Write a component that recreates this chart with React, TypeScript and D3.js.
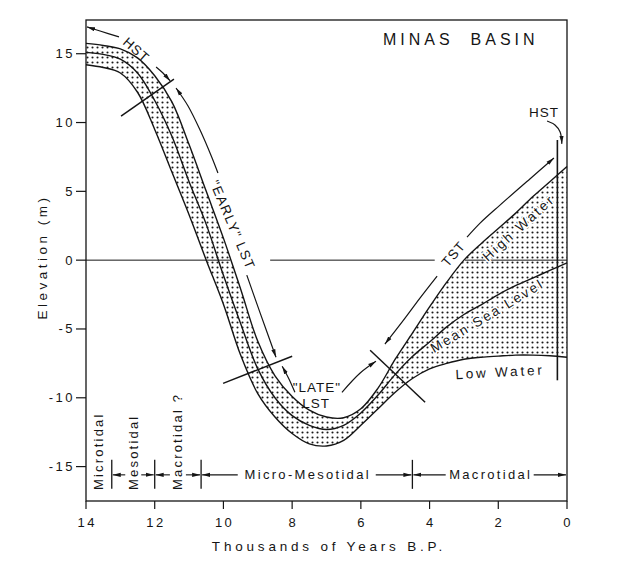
import * as d3 from 'd3'
import React from 'react'

// ages in thousands of years B.P. and the three tidal levels (m)
const years = [14, 13.5, 13, 12.5, 12, 11.5, 11, 10.5, 10, 9.5, 9, 8.5, 8, 7.5, 7, 6.5, 6, 5.5, 5, 4.5, 4, 3.5, 3, 2.5, 2, 1.5, 1, 0.5, 0]
const highWater = [15.75, 15.6, 15.35, 14.7, 13.4, 11.5, 8.4, 5.0, 1.6, -2.1, -5.9, -8.4, -9.9, -10.9, -11.4, -11.45, -10.8, -9.3, -7.2, -5.3, -3.4, -1.6, 0.0, 1.2, 2.3, 3.4, 4.6, 5.7, 6.8]
const meanSeaLevel = [15.1, 14.95, 14.6, 13.6, 11.6, 9.0, 5.7, 2.6, -1.1, -4.6, -7.9, -10.0, -11.3, -12.0, -12.3, -12.0, -11.1, -9.8, -8.3, -7.0, -5.95, -4.85, -3.95, -3.25, -2.5, -1.85, -1.3, -0.75, -0.2]
const lowWater = [14.2, 14.0, 13.6, 12.2, 9.5, 6.4, 3.3, 0.0, -3.2, -6.9, -9.7, -11.4, -12.6, -13.35, -13.5, -13.1, -12.0, -10.8, -9.6, -8.6, -7.9, -7.5, -7.2, -7.05, -6.97, -6.9, -6.9, -6.95, -7.05]

const xTicks = [14, 12, 10, 8, 6, 4, 2, 0]
const yTicks = [15, 10, 5, 0, -5, -10, -15]

// zero line pieces (kyr), broken where labels sit
const zeroPieces = [[14, 9.8], [8.64, 3.85], [2.97, 0]]

// systems tract arrows: [age, elevation], piece before and after each label
const hstStart = [[13.97, 16.95], [13.59, 16.65], [13.04, 16.22]]
const hstEnd = [[11.96, 14.04], [11.76, 13.6], [11.55, 13.02]]
const earlyStart = [[11.38, 12.51], [11.03, 11.2], [10.68, 9.45], [10.33, 7.42], [10.16, 6.33]]
const earlyEnd = [[9.32, -1.09], [8.93, -3.85], [8.47, -7.05]]
const lateStart = [[8.29, -7.71], [8.1, -8.6], [7.92, -9.6]]
const lateEnd = [[6.55, -9.6], [6.02, -8.2], [5.56, -7.35]]
const tstStart = [[5.3, -6.1], [4.77, -4.4], [4.28, -2.76], [3.78, -1.16]]
const tstEnd = [[2.91, 1.67], [2.53, 2.69], [1.95, 4.0], [1.08, 5.9], [0.38, 7.42]]
const hstRightArrow = [[0.58, 10.11], [0.35, 9.82], [0.2, 9.31], [0.15, 8.45]]

// boundary strokes across the band
const boundaries = [
  [[12.98, 10.47], [11.44, 13.16]],
  [[10.01, -8.95], [8.0, -6.98]],
  [[5.73, -6.55], [4.13, -10.33]],
]
const hstLimit = { age: 0.28, top: 8.73, bottom: -8.73 }

// tidal regime zones along the bottom
const zoneEdges = [14, 13.25, 12, 10.65, 4.5, 0]
const zoneNames = ['Microtidal', 'Mesotidal', 'Macrotidal ?', 'Micro-Mesotidal', 'Macrotidal']
const zoneLevel = -15.6

const FONT = "'Liberation Sans', Arial, Helvetica, sans-serif"
const INK = '#151515'
const halo = { stroke: '#fff', strokeWidth: 4, paintOrder: 'stroke', strokeLinejoin: 'round' } as any

export default function App() {
  const width = 617
  const height = 563
  const x = d3.scaleLinear().domain([14, 0]).range([86, 567])
  const y = d3.scaleLinear().domain([-17.5, 17.45]).range([501, 20])

  const curve = d3.curveCatmullRom.alpha(0.5)
  const level = d3.line<number>().x((_, i) => x(years[i])).y((d) => y(d)).curve(curve)
  const band = d3
    .area<number>()
    .x((_, i) => x(years[i]))
    .y0((_, i) => y(lowWater[i]))
    .y1((d) => y(d))
    .curve(curve)
  const path = d3.line<number[]>().x((d) => x(d[0])).y((d) => y(d[1])).curve(curve)

  const label = (txt: string, t: number, v: number, angle: number, opts: any = {}) => (
    <text
      transform={`translate(${x(t)},${y(v)}) rotate(${angle})`}
      textAnchor="middle"
      dominantBaseline="central"
      fontSize={13.5}
      fill={INK}
      {...opts}
    >
      {txt}
    </text>
  )

  const zy = y(zoneLevel)
  const zoneGap = [0, 8, 8, 69, 44]
  const vertical = [true, true, true, false, false]

  return (
    <svg width={width} height={height} style={{ position: 'absolute', left: 0, top: 0 }} fontFamily={FONT}>
      <defs>
        <pattern id="dots" width="5" height="5" patternUnits="userSpaceOnUse">
          <circle cx="2.5" cy="2.5" r="1.05" fill="#1a1a1a" />
        </pattern>
        <marker
          id="head"
          viewBox="0 0 10 6"
          refX="10"
          refY="3"
          markerWidth="8"
          markerHeight="4.8"
          markerUnits="userSpaceOnUse"
          orient="auto-start-reverse"
        >
          <path d="M0,0.4 L10,3 L0,5.6 z" fill={INK} />
        </marker>
      </defs>
      <rect width={width} height={height} fill="#fff" />

      {/* frame and axes */}
      <rect x={86} y={20} width={481} height={481} fill="none" stroke={INK} strokeWidth={1.3} />
      {yTicks.map((v) => (
        <g key={v}>
          <line x1={76} x2={86} y1={y(v)} y2={y(v)} stroke={INK} strokeWidth={1.2} />
          <text x={75} y={y(v)} textAnchor="end" dominantBaseline="central" fontSize={13} letterSpacing={2.5} fill={INK}>
            {v}
          </text>
        </g>
      ))}
      {xTicks.map((t) => (
        <g key={t}>
          <line x1={x(t)} x2={x(t)} y1={501} y2={509} stroke={INK} strokeWidth={1.2} />
          <text x={x(t) + 1.2} y={527} textAnchor="middle" fontSize={13} letterSpacing={2.5} fill={INK}>
            {t}
          </text>
        </g>
      ))}
      <text x={329} y={551} textAnchor="middle" fontSize={13.5} letterSpacing={3.8} fill={INK}>
        Thousands of Years B.P.
      </text>
      <text
        transform="translate(42,257) rotate(-90)"
        textAnchor="middle"
        dominantBaseline="central"
        fontSize={13.5}
        letterSpacing={3.5}
        fill={INK}
      >
        Elevation (m)
      </text>
      <text x={383} y={45} fontSize={16} letterSpacing={4} fill={INK}>
        {'MINAS\u00a0\u00a0BASIN'}
      </text>

      {/* tidal band */}
      <path d={band(highWater) ?? ''} fill="url(#dots)" />
      {zeroPieces.map(([a, b], i) => (
        <line key={i} x1={x(a)} x2={x(b)} y1={y(0)} y2={y(0)} stroke={INK} strokeWidth={1} />
      ))}
      {[highWater, meanSeaLevel, lowWater].map((vals, i) => (
        <path key={i} d={level(vals) ?? ''} fill="none" stroke={INK} strokeWidth={1.4} />
      ))}

      {/* systems tract boundaries */}
      {boundaries.map((b, i) => (
        <line key={i} x1={x(b[0][0])} y1={y(b[0][1])} x2={x(b[1][0])} y2={y(b[1][1])} stroke={INK} strokeWidth={1.5} />
      ))}
      <line x1={x(hstLimit.age)} x2={x(hstLimit.age)} y1={y(hstLimit.top)} y2={y(hstLimit.bottom)} stroke={INK} strokeWidth={1.6} />

      {/* tract arrows */}
      {[hstStart, earlyStart, lateStart, tstStart].map((p, i) => (
        <path key={'s' + i} d={path(p) ?? ''} fill="none" stroke={INK} strokeWidth={1.2} markerStart="url(#head)" />
      ))}
      {[hstEnd, earlyEnd, lateEnd, tstEnd, hstRightArrow].map((p, i) => (
        <path key={'e' + i} d={path(p) ?? ''} fill="none" stroke={INK} strokeWidth={1.2} markerEnd="url(#head)" />
      ))}

      {label('HST', 12.54, 15.27, 41, { letterSpacing: 1 })}
      {label('"EARLY" LST', 9.74, 2.55, 67, { letterSpacing: 1.3, ...halo })}
      {label('"LATE"', 7.28, -9.24, 0, { letterSpacing: 1 })}
      {label('LST', 7.3, -10.45, 0, { letterSpacing: 1 })}
      {label('TST', 3.3, 0.45, -49, { letterSpacing: 1, ...halo })}
      {label('HST', 0.67, 10.7, 0, { letterSpacing: 1 })}

      {label('High Water', 1.4, 2.35, -42, { letterSpacing: 2.5, ...halo, strokeWidth: 3 })}
      {label('Mean Sea Level', 2.32, -4.05, -31, { letterSpacing: 2.3, ...halo, strokeWidth: 3 })}
      {label('Low Water', 1.95, -8.15, -3, { letterSpacing: 2.8 })}

      {/* tidal regimes */}
      {zoneEdges.slice(1, -1).map((t) => (
        <line key={t} x1={x(t)} x2={x(t)} y1={zy - 15} y2={zy + 14} stroke={INK} strokeWidth={1.3} />
      ))}
      {zoneNames.map((name, i) => {
        const left = x(zoneEdges[i])
        const right = x(zoneEdges[i + 1])
        const mid = (left + right) / 2
        const gap = zoneGap[i]
        return (
          <g key={name}>
            {vertical[i] ? (
              <text
                transform={`translate(${mid},490) rotate(-90)`}
                dominantBaseline="central"
                fontSize={13}
                letterSpacing={2.2}
                fill={INK}
              >
                {name}
              </text>
            ) : (
              <text x={mid + 1} y={zy} textAnchor="middle" dominantBaseline="central" fontSize={13} letterSpacing={2.3} fill={INK}>
                {name}
              </text>
            )}
            {i > 0 && (
              <>
                <line x1={left + 1} x2={mid - gap} y1={zy} y2={zy} stroke={INK} strokeWidth={1.1} markerStart="url(#head)" />
                <line x1={mid + gap} x2={right - 1} y1={zy} y2={zy} stroke={INK} strokeWidth={1.1} markerEnd="url(#head)" />
              </>
            )}
          </g>
        )
      })}
    </svg>
  )
}
